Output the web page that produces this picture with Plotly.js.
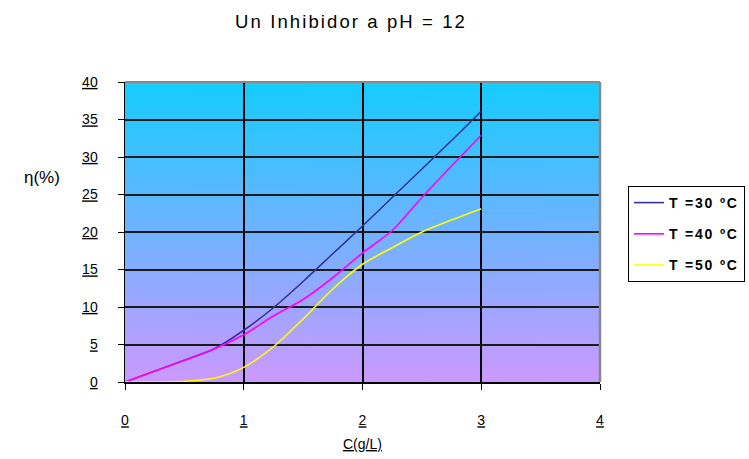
<!DOCTYPE html>
<html>
<head>
<meta charset="utf-8">
<script src="https://cdn.plot.ly/plotly-3.0.1.min.js"></script>
<style>html,body{margin:0;padding:0;background:#fff;}#chart{width:749px;height:459px;}</style>
</head>
<body>
<div id="chart"></div>
<script>
// Data
var concentration = [0, 0.5, 0.75, 1, 1.25, 1.5, 1.75, 2, 2.25, 2.5, 2.75, 3];
var eta30 = [0, 2.9, 4.4, 6.9, 9.9, 13.4, 17.1, 20.8, 24.6, 28.4, 32.2, 36.1];
var eta40 = [0, 2.9, 4.4, 6.3, 8.8, 11.0, 13.9, 17.2, 20.2, 24.6, 28.8, 32.9];
var eta50 = [0, 0.1, 0.5, 1.95, 4.7, 8.4, 12.4, 15.7, 17.9, 20.0, 21.6, 23.1];
var seriesNames = ['T =30 ºC', 'T =40 ºC', 'T =50 ºC'];
var xTicks = [0, 1, 2, 3, 4];
var yTicks = [0, 5, 10, 15, 20, 25, 30, 35, 40];

function gradientURL() {
  var c = document.createElement('canvas');
  c.width = 4; c.height = 300;
  var ctx = c.getContext('2d');
  var g = ctx.createLinearGradient(0, 0, 0, 300);
  g.addColorStop(0, '#14CCFF');
  g.addColorStop(1, '#CC99FF');
  ctx.fillStyle = g;
  ctx.fillRect(0, 0, 4, 300);
  return c.toDataURL('image/png');
}

var colors = ['#333399', '#FF00FF', '#FFFF00'];
var ys = [eta30, eta40, eta50];
var traces = ys.map(function (y, i) {
  return {
    x: concentration, y: y, type: 'scatter', mode: 'lines',
    name: "<span style='letter-spacing:1.8px'>" + seriesNames[i] + '</span>',
    legendgroup: 'g' + i,
    line: {color: colors[i], width: 1.6, shape: 'spline', smoothing: 0.8},
    hoverinfo: 'skip'
  };
});

var baseFont = {family: 'Liberation Sans, Arial, sans-serif', size: 14, color: '#000'};

var layout = {
  width: 749, height: 459,
  margin: {l: 125, r: 149, t: 82, b: 77},
  paper_bgcolor: '#fff',
  plot_bgcolor: 'rgba(0,0,0,0)',
  font: baseFont,
  title: {
    text: "<span style='letter-spacing:2.1px'>Un Inhibidor a pH = 12</span>",
    font: {family: 'Liberation Sans, Arial, sans-serif', size: 18.5, color: '#000'},
    x: 351 / 749, xanchor: 'center', xref: 'container',
    y: 1 - 22 / 459, yanchor: 'middle', yref: 'container'
  },
  xaxis: {
    range: [0, 4], tickmode: 'array', tickvals: xTicks,
    ticktext: xTicks.map(function (v) { return '<u>' + v + '</u>'; }),
    showgrid: true, gridcolor: '#000', gridwidth: 2,
    zeroline: false, showline: true, linecolor: '#000', linewidth: 1.5,
    ticks: 'outside', ticklen: 6, tickcolor: '#000', tickwidth: 1,
    ticklabelstandoff: 19,
    tickfont: baseFont, fixedrange: true
  },
  yaxis: {
    range: [0, 40], tickmode: 'array', tickvals: yTicks,
    ticktext: yTicks.map(function (v) { return '<u>' + v + '</u>'; }),
    showgrid: true, gridcolor: '#1a1a1a', gridwidth: 2,
    zeroline: false, showline: true, linecolor: '#000', linewidth: 1.5,
    ticks: 'outside', ticklen: 6, tickcolor: '#000', tickwidth: 1,
    ticklabelstandoff: 17,
    tickfont: baseFont, fixedrange: true
  },
  images: [{
    source: gradientURL(), xref: 'paper', yref: 'paper',
    x: 0, y: 1, sizex: 1, sizey: 1, sizing: 'stretch', layer: 'below'
  }],
  shapes: [
    {type: 'line', xref: 'paper', yref: 'paper', x0: 0, x1: 1, y0: 1, y1: 1, line: {color: '#888', width: 2}},
    {type: 'line', xref: 'paper', yref: 'paper', x0: 1, x1: 1, y0: 0, y1: 1, line: {color: '#888', width: 2.5}}
  ],
  annotations: [
    {text: 'η(%)', xref: 'paper', yref: 'paper', x: (42 - 125) / 475, y: (382 - 177) / 300,
     showarrow: false, xanchor: 'center', yanchor: 'middle',
     font: {family: 'Liberation Sans, Arial, sans-serif', size: 17, color: '#000'}},
    {text: '<u>C(g/L)</u>', xref: 'paper', yref: 'paper', x: 0.5, y: 0,
     showarrow: false, xanchor: 'center', yanchor: 'top', yshift: -52,
     font: {family: 'Liberation Sans, Arial, sans-serif', size: 14, color: '#000'}}
  ],
  showlegend: true,
  legend: {
    xref: 'container', yref: 'container',
    x: 628 / 749, y: 1 - 186 / 459, xanchor: 'left', yanchor: 'top',
    bgcolor: '#fff', bordercolor: '#000', borderwidth: 1,
    tracegroupgap: 10,
    font: {family: 'Liberation Sans, Arial, sans-serif', size: 14, color: '#000', weight: 'bold'}
  }
};

Plotly.newPlot('chart', traces, layout, {displayModeBar: false, staticPlot: true});
</script>
</body>
</html>
